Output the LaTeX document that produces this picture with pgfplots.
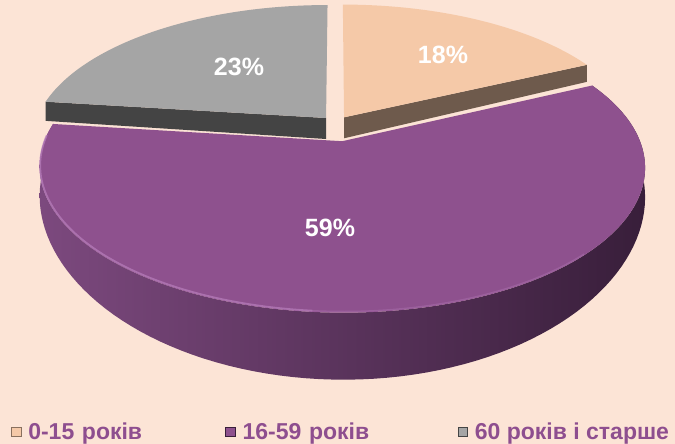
\documentclass[border=0pt]{standalone}
\usepackage{fontspec}
\setmainfont{Liberation Sans}
\usepackage{pgfplots}
\pgfplotsset{compat=1.18}
\definecolor{bgc}{RGB}{252,228,214}
\definecolor{peachtop}{RGB}{245,201,168}
\definecolor{peachside}{RGB}{110,90,76}
\definecolor{graytop}{RGB}{165,165,165}
\definecolor{grayside}{RGB}{68,68,68}
\definecolor{purtop}{RGB}{142,81,142}
\definecolor{purleft}{RGB}{124,73,126}
\definecolor{purright}{RGB}{56,30,58}
\definecolor{purhl}{RGB}{182,124,186}
\definecolor{legcol}{RGB}{142,78,143}
% data (percent)
\def\vA{18}\def\vB{59}\def\vC{23}
\begin{document}
\begin{tikzpicture}[declare function={
 piex(\pu,\pv)=336+291*\pu/(1+0.175*\pv);
 piey(\pu,\pv)=123.2-134.4*\pv/(1+0.175*\pv);
 depthf(\pv)=21.72-18.85*\pv+18.73*\pv*\pv;
 arcx(\ang,\eu,\ev)=piex(\eu+cos(\ang),\ev+sin(\ang));
 arcy(\ang,\eu,\ev)=piey(\eu+cos(\ang),\ev+sin(\ang));
 arcby(\ang,\eu,\ev)=piey(\eu+cos(\ang),\ev+sin(\ang))+depthf(\ev+sin(\ang));
}]
\pgfmathsetmacro\aA{90}
\pgfmathsetmacro\aB{\aA-3.6*\vA}
\pgfmathsetmacro\aC{\aB-3.6*\vB}
\pgfmathsetmacro\aD{\aC-3.6*\vC}
\pgfmathsetmacro\euA{0.052*cos((\aA+\aB)/2)}
\pgfmathsetmacro\evA{0.052*sin((\aA+\aB)/2)}
\pgfmathsetmacro\euB{0.1326*cos((\aB+\aC)/2)}
\pgfmathsetmacro\evB{0.1326*sin((\aB+\aC)/2)}
\pgfmathsetmacro\euC{0.052*cos((\aC+\aD)/2)}
\pgfmathsetmacro\evC{0.052*sin((\aC+\aD)/2)}
% gray radial face (at angle aC)
\pgfmathsetmacro\gAx{piex(\euC,\evC)}
\pgfmathsetmacro\gAy{piey(\euC,\evC)}
\pgfmathsetmacro\gAyb{\gAy+depthf(\evC)}
\pgfmathsetmacro\gCx{arcx(\aC,\euC,\evC)}
\pgfmathsetmacro\gCy{arcy(\aC,\euC,\evC)}
\pgfmathsetmacro\gCyb{arcby(\aC,\euC,\evC)}
% peach radial face (at angle aB)
\pgfmathsetmacro\pAx{piex(\euA,\evA)}
\pgfmathsetmacro\pAy{piey(\euA,\evA)}
\pgfmathsetmacro\pAyb{\pAy+depthf(\evA)}
\pgfmathsetmacro\pCx{arcx(\aB,\euA,\evA)}
\pgfmathsetmacro\pCy{arcy(\aB,\euA,\evA)}
\pgfmathsetmacro\pCyb{arcby(\aB,\euA,\evA)}
\fill[bgc] (0,0) rectangle (675pt,444pt);
\begin{axis}[at={(0pt,0pt)}, anchor=south west, width=675pt, height=444pt,
  scale only axis, xmin=0, xmax=675, ymin=0, ymax=444, y dir=reverse,
  hide axis, clip=false,
  legend image code/.code={\draw[#1, line width=0.8pt] (0pt,-4.8pt) rectangle (9.5pt,4.8pt);},
  legend style={at={(axis cs:11,432)}, anchor=west, draw=none, fill=none,
    inner sep=0pt, outer sep=0pt, legend columns=3,
    font=\fontsize{23}{26}\selectfont\bfseries, text=legcol,
    nodes={inner sep=0pt}, /tikz/column sep=7pt},
  legend cell align=left]
% gray slice
\addplot[forget plot, fill=grayside, draw=none] coordinates {(\gAx,\gAy) (\gCx,\gCy) (\gCx,\gCyb) (\gAx,\gAyb)};
\addplot[forget plot, fill=graytop, draw=none, domain=0:1.01, samples=102, variable=\s]
 ({\s<1.005 ? arcx(\aC+(\aD-\aC)*min(\s,1),\euC,\evC) : piex(\euC,\evC)},
  {\s<1.005 ? arcy(\aC+(\aD-\aC)*min(\s,1),\euC,\evC) : piey(\euC,\evC)});
% peach slice
\addplot[forget plot, fill=peachside, draw=none] coordinates {(\pAx,\pAy) (\pCx,\pCy) (\pCx,\pCyb) (\pAx,\pAyb)};
\addplot[forget plot, fill=peachtop, draw=none, domain=0:1.01, samples=102, variable=\s]
 ({\s<1.005 ? arcx(\aA+(\aB-\aA)*min(\s,1),\euA,\evA) : piex(\euA,\evA)},
  {\s<1.005 ? arcy(\aA+(\aB-\aA)*min(\s,1),\euA,\evA) : piey(\euA,\evA)});
% purple slice: outer side
\addplot[forget plot, draw=none, left color=purleft, right color=purright, domain=0:2, samples=201, variable=\s]
 ({arcx(\aB+(\aC-\aB)*(1-abs(1-\s)),\euB,\evB)},
  {arcy(\aB+(\aC-\aB)*(1-abs(1-\s)),\euB,\evB)+(\s>1.0001)*depthf(\evB+sin(\aB+(\aC-\aB)*(1-abs(1-\s))))});
% purple top
\addplot[forget plot, fill=purtop, draw=none, domain=0:1.01, samples=160, variable=\s]
 ({\s<1.005 ? arcx(\aB+(\aC-\aB)*min(\s,1),\euB,\evB) : piex(\euB,\evB)},
  {\s<1.005 ? arcy(\aB+(\aC-\aB)*min(\s,1),\euB,\evB) : piey(\euB,\evB)});
% highlight on the front edge
\addplot[forget plot, purhl, line width=1.8pt, opacity=0.75, domain=-182:-95, samples=60, variable=\t]
 ({arcx(\t,\euB,\evB)+0.5},{arcy(\t,\euB,\evB)-1.2});
\addplot[forget plot, purhl, line width=1.5pt, opacity=0.35, domain=-95:-45, samples=40, variable=\t]
 ({arcx(\t,\euB,\evB)},{arcy(\t,\euB,\evB)-1.2});
% labels
\node[text=white, font=\fontsize{25}{29}\selectfont\bfseries] at (axis cs:443,55) {18\%};
\node[text=white, font=\fontsize{25}{29}\selectfont\bfseries] at (axis cs:239,67) {23\%};
\node[text=white, font=\fontsize{25}{29}\selectfont\bfseries] at (axis cs:330,228) {59\%};
% legend
\addlegendimage{fill=peachtop, draw=peachside!80!peachtop}
\addlegendentry[text width=190pt]{0-15 років}
\addlegendimage{fill=purtop, draw=purright}
\addlegendentry[text width=208pt]{16-59 років}
\addlegendimage{fill=graytop, draw=grayside}
\addlegendentry{60 років і старше}
\end{axis}
\end{tikzpicture}
\end{document}
